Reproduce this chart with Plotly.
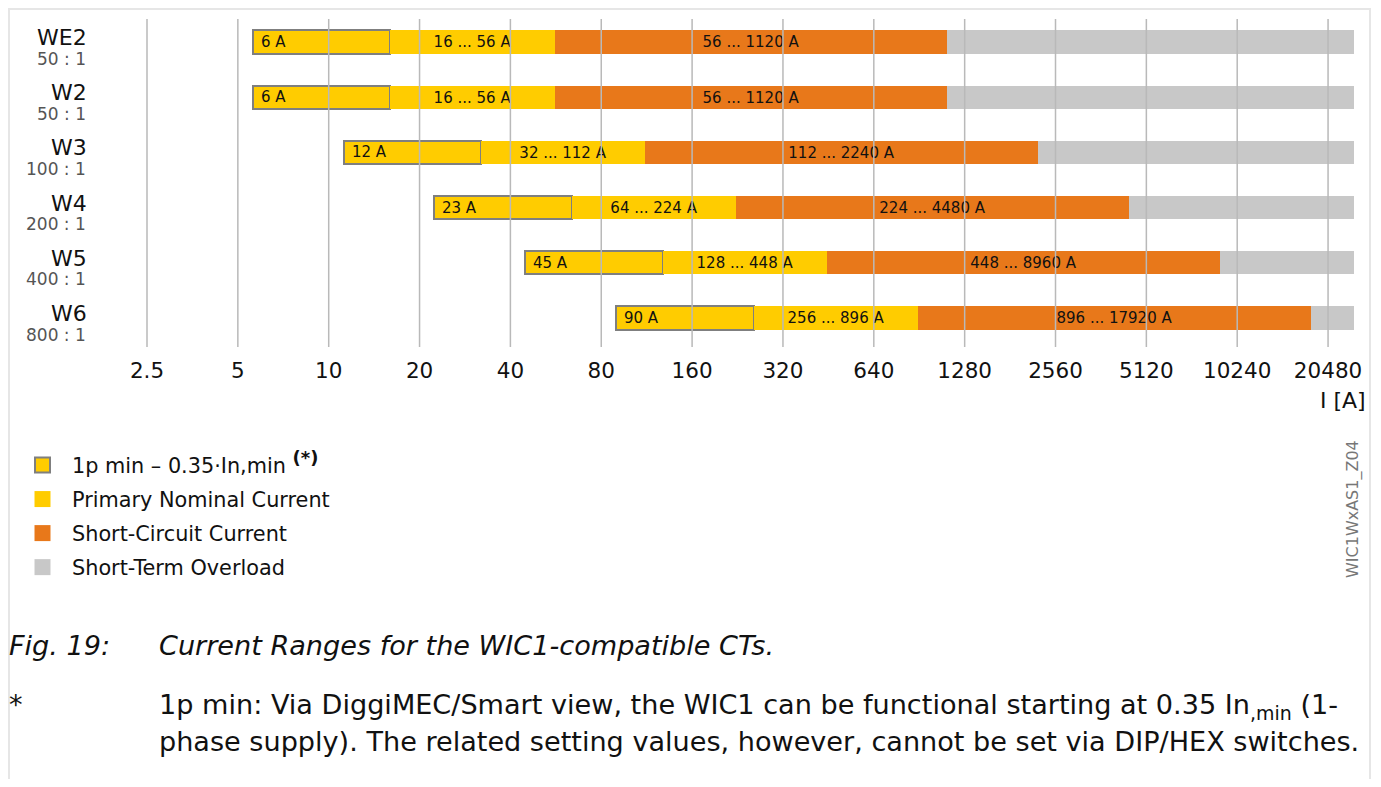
import math
import plotly.graph_objects as go

# ---------------- data ----------------
ct_names = ["WE2", "W2", "W3", "W4", "W5", "W6"]
ct_ratios = ["50 : 1", "50 : 1", "100 : 1", "200 : 1", "400 : 1", "800 : 1"]
lp_min = [5.6, 5.6, 11.2, 22.4, 44.8, 89.6]          # 1p min = 0.35*In,min
lp_labels = ["6 A", "6 A", "12 A", "23 A", "45 A", "90 A"]
nom_min = [16, 16, 32, 64, 128, 256]
nom_max = [56, 56, 112, 224, 448, 896]
sc_max = [1120, 1120, 2240, 4480, 8960, 17920]
ovl_max = [25000, 25000, 25000, 25000, 25000, 25000]
nom_labels = ["16 ... 56 A", "16 ... 56 A", "32 ... 112 A", "64 ... 224 A", "128 ... 448 A", "256 ... 896 A"]
sc_labels = ["56 ... 1120 A", "56 ... 1120 A", "112 ... 2240 A", "224 ... 4480 A", "448 ... 8960 A", "896 ... 17920 A"]
tick_vals = [2.5, 5, 10, 20, 40, 80, 160, 320, 640, 1280, 2560, 5120, 10240, 20480]
tick_text = ["2.5", "5", "10", "20", "40", "80", "160", "320", "640", "1280", "2560", "5120", "10240", "20480"]
legend_names = ["1p min – 0.35·In,min <sup><span style='font-size:18px'><b>(*)</b></span></sup>",
                "Primary Nominal Current", "Short-Circuit Current", "Short-Term Overload"]

YELLOW = "#FFCC00"
ORANGE = "#E8781A"
GREY = "#C8C8C8"
OUTLINE = "#7F7F7F"
FONT = "DejaVu Sans"

rows = list(range(len(ct_names)))

# page pixel helpers (figure sits at page offset 8,8)
FW, FH = 1365, 771
ML, MR, MT, MB = 92, 13, 11, 432
PW = FW - ML - MR
PH = FH - MT - MB
def xp(px):
    return (px - 8 - ML) / PW
def yp(py):
    return 1 - (py - 8 - MT) / PH

fig = go.Figure()
bw = 0.42
txtfont = dict(family=FONT, size=15, color="#111111")

# grey overload
fig.add_trace(go.Bar(y=rows, base=sc_max, x=[o - s for o, s in zip(ovl_max, sc_max)], orientation="h",
                     width=bw, marker=dict(color=GREY, line=dict(width=0)), showlegend=False, hoverinfo="skip"))
# orange short circuit
fig.add_trace(go.Bar(y=rows, base=nom_max, x=[s - n for s, n in zip(sc_max, nom_max)], orientation="h",
                     width=bw, marker=dict(color=ORANGE, line=dict(width=0)), text=sc_labels,
                     textposition="inside", insidetextanchor="middle", insidetextfont=txtfont,
                     textangle=0, constraintext="none", showlegend=False, hoverinfo="skip"))
# 1p min (outlined)
fig.add_trace(go.Bar(y=rows, base=lp_min, x=[n - l for n, l in zip(nom_min, lp_min)], orientation="h",
                     width=bw, marker=dict(color=YELLOW, line=dict(width=2, color=OUTLINE)),
                     showlegend=False, hoverinfo="skip"))
# yellow primary nominal
fig.add_trace(go.Bar(y=rows, base=nom_min, x=[b - a for a, b in zip(nom_min, nom_max)], orientation="h",
                     width=bw, marker=dict(color=YELLOW, line=dict(width=0)), text=nom_labels,
                     textposition="inside", insidetextanchor="middle", insidetextfont=txtfont,
                     textangle=0, constraintext="none", showlegend=False, hoverinfo="skip"))

# legend-only entries
leg_colors = [YELLOW, YELLOW, ORANGE, GREY]
for i, (nm, c) in enumerate(zip(legend_names, leg_colors)):
    fig.add_trace(go.Scatter(x=[None], y=[None], mode="markers", name=nm, legendgroup=str(i),
                             marker=dict(symbol="square", size=15 if i == 0 else 16, color=c,
                                         line=dict(width=2 if i == 0 else 0, color=OUTLINE))))

# grid lines above bars
for v in tick_vals:
    fig.add_shape(type="line", xref="x", yref="paper", x0=v, x1=v, y0=0, y1=1,
                  line=dict(color="#B9B9B9", width=1.5), layer="above")

# outer frame
fig.add_shape(type="rect", xref="paper", yref="paper", x0=xp(9), x1=xp(1370), y0=yp(9), y1=yp(800),
              line=dict(color="#E6E6E6", width=2), layer="below")

ann = []
# 1p min labels, anchored to the start of each outlined bar (annotation x on a log axis is log10)
for i in rows:
    ann.append(dict(x=math.log10(lp_min[i]), y=i, xref="x", yref="y", text=lp_labels[i], showarrow=False,
                    xanchor="left", yanchor="middle", xshift=6, font=txtfont))
for i in rows:
    ann.append(dict(x=xp(89), y=i, xref="paper", yref="y", text=ct_names[i], showarrow=False,
                    xanchor="right", yanchor="middle", yshift=4.5,
                    font=dict(family=FONT, size=22, color="#111111")))
    ann.append(dict(x=xp(88), y=i, xref="paper", yref="y", text=ct_ratios[i], showarrow=False,
                    xanchor="right", yanchor="middle", yshift=-16.5,
                    font=dict(family=FONT, size=17, color="#555555")))
ann.append(dict(x=xp(1368), y=yp(400), xref="paper", yref="paper", text="I [A]", showarrow=False,
                xanchor="right", yanchor="middle", font=dict(family=FONT, size=22, color="#111111")))
ann.append(dict(x=xp(1353), y=yp(509), xref="paper", yref="paper", text="WIC1WxAS1_Z04", showarrow=False,
                textangle=-90, xanchor="center", yanchor="middle", font=dict(family=FONT, size=16, color="#777777")))
cap_font = dict(family=FONT, size=27.1, color="#111111")
ann.append(dict(x=xp(7), y=yp(645), xref="paper", yref="paper", text="<i>Fig. 19:</i>", showarrow=False,
                xanchor="left", yanchor="middle", font=cap_font))
ann.append(dict(x=xp(157), y=yp(645), xref="paper", yref="paper",
                text="<i>Current Ranges for the WIC1-compatible CTs.</i>", showarrow=False,
                xanchor="left", yanchor="middle", font=cap_font))
ann.append(dict(x=xp(7), y=yp(704), xref="paper", yref="paper", text="*", showarrow=False,
                xanchor="left", yanchor="middle", font=cap_font))
ann.append(dict(x=xp(157), y=yp(706), xref="paper", yref="paper",
                text="1p min: Via DiggiMEC/Smart view, the WIC1 can be functional starting at 0.35 In<sub>,min</sub> (1-",
                showarrow=False, xanchor="left", yanchor="middle", font=cap_font))
ann.append(dict(x=xp(157), y=yp(741), xref="paper", yref="paper",
                text="phase supply). The related setting values, however, cannot be set via DIP/HEX switches.",
                showarrow=False, xanchor="left", yanchor="middle", font=cap_font))

fig.update_layout(
    width=FW, height=FH, margin=dict(l=ML, r=MR, t=MT, b=MB, autoexpand=False),
    paper_bgcolor="white", plot_bgcolor="white",
    barmode="overlay", bargap=0,
    font=dict(family=FONT, size=20, color="#111111"),
    showlegend=True,
    legend=dict(x=xp(13), y=yp(445), xanchor="left", yanchor="top", xref="paper", yref="paper",
                font=dict(family=FONT, size=20.8, color="#111111"), tracegroupgap=4, itemwidth=49,
                traceorder="grouped", itemclick=False, bgcolor="rgba(0,0,0,0)"),
    annotations=ann,
    xaxis=dict(type="log", range=[0.24221, 4.41716], tickvals=tick_vals, ticktext=tick_text,
               showgrid=False, zeroline=False, showline=False, ticks="", ticklabelstandoff=8,
               tickfont=dict(family=FONT, size=21.5, color="#111111"), fixedrange=True),
    yaxis=dict(range=[5.525, -0.4167], showticklabels=False, showgrid=False, zeroline=False,
               showline=False, ticks="", fixedrange=True),
)

fig.write_html("out.html")
